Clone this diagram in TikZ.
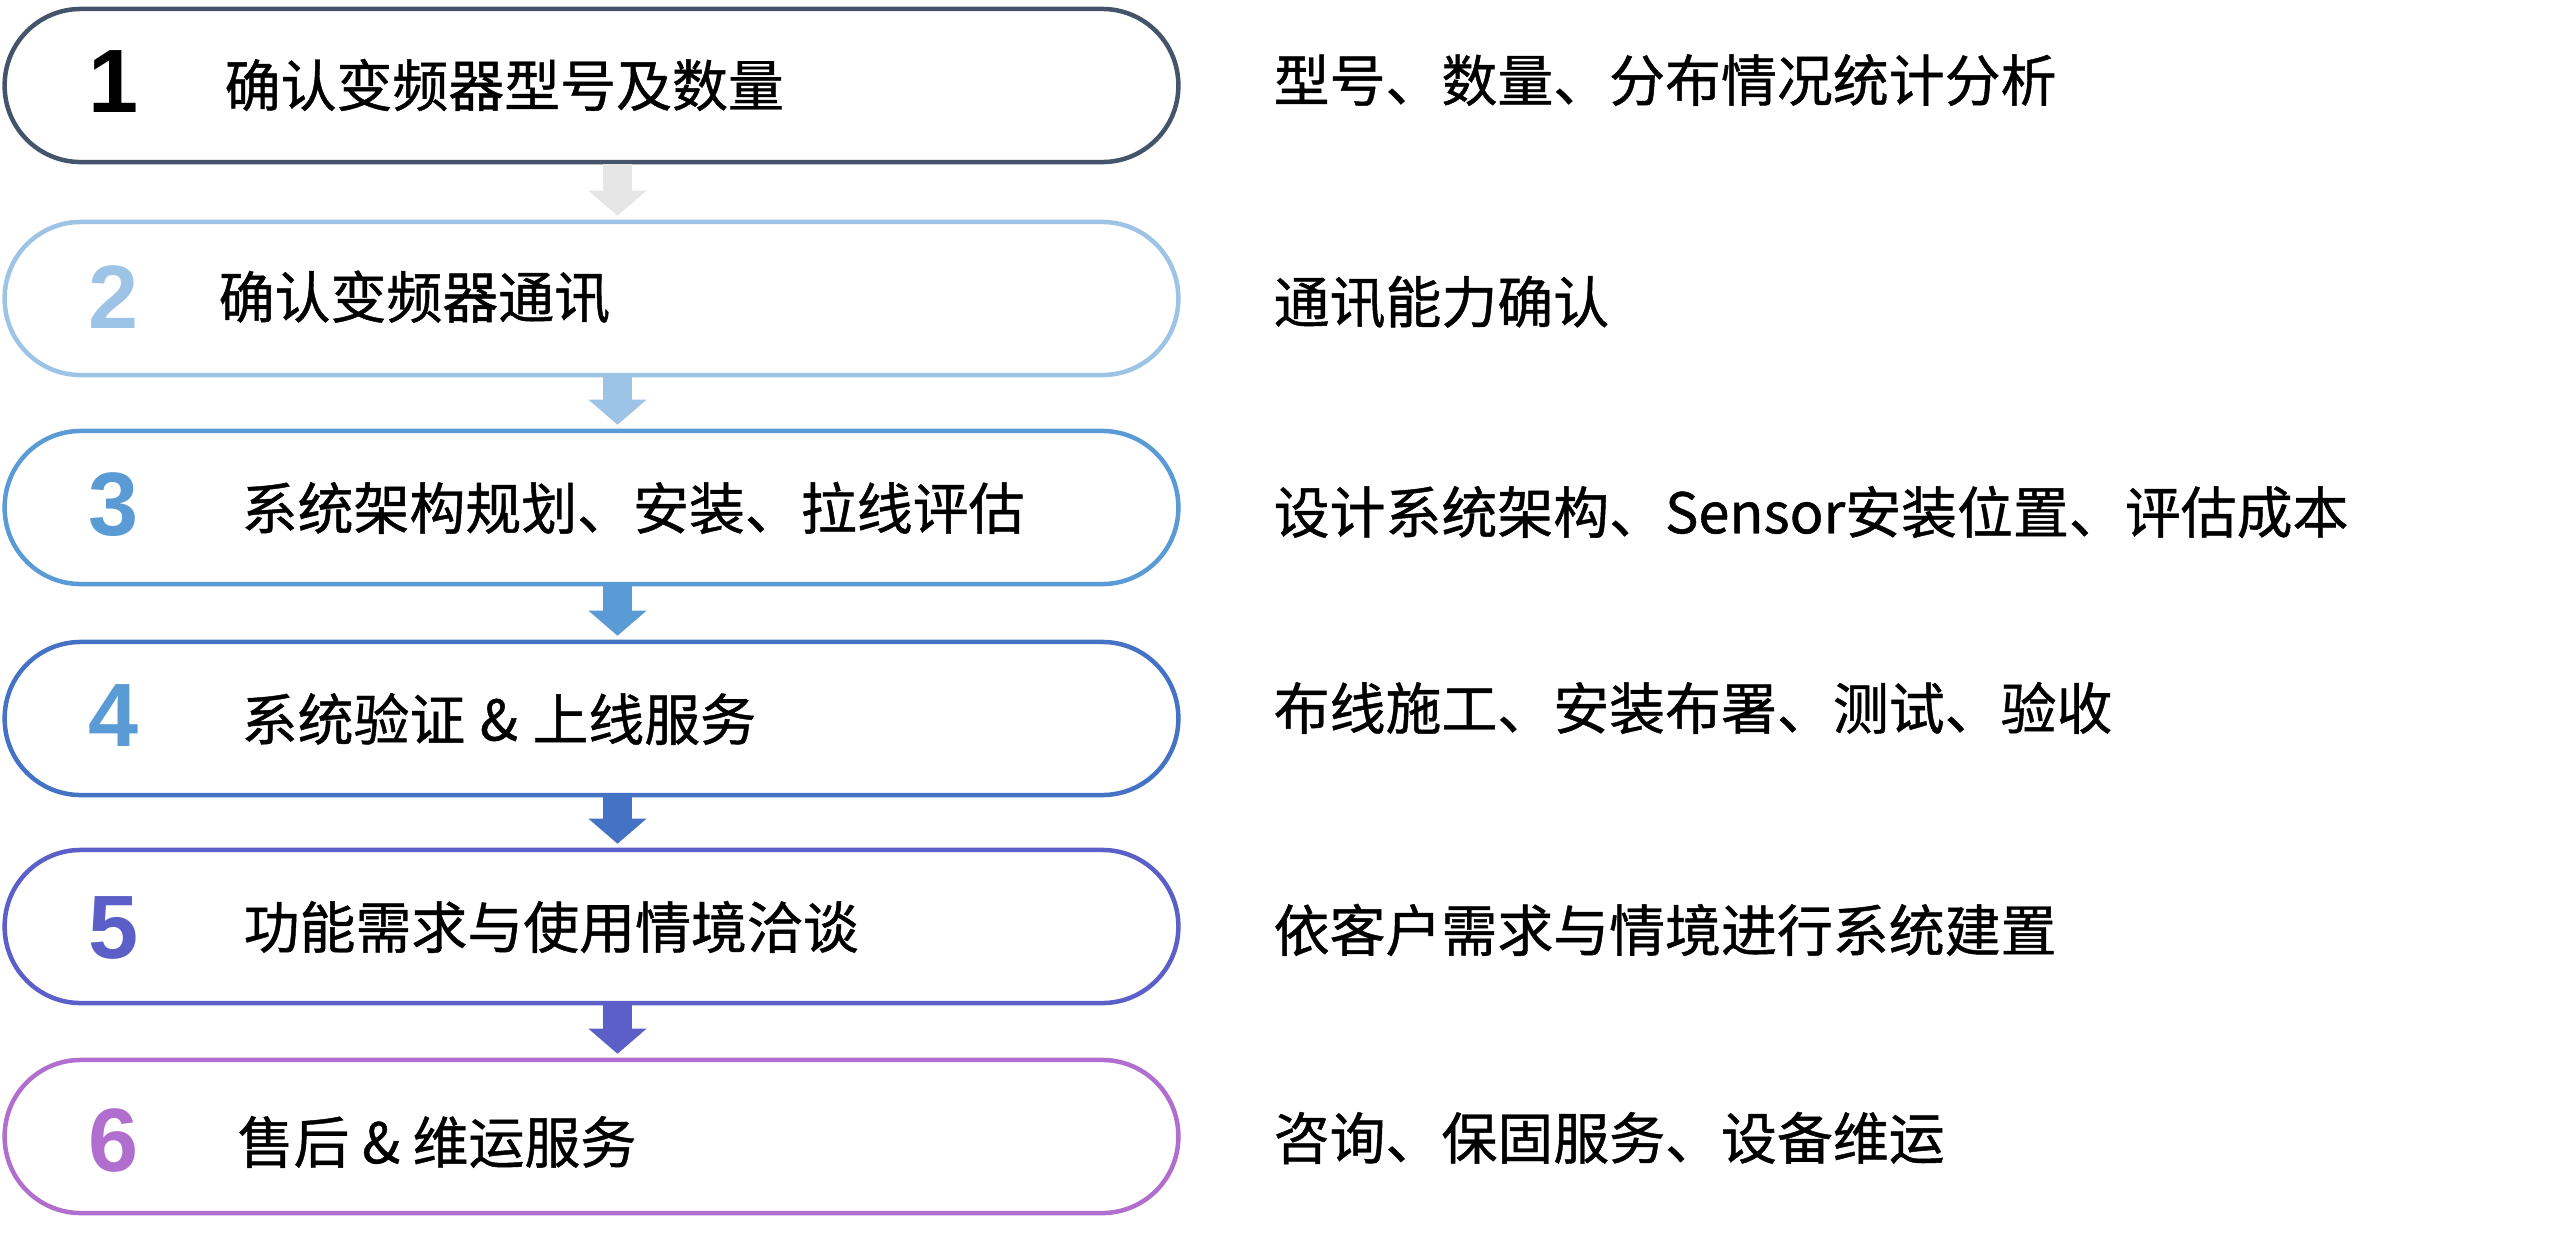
\documentclass[tikz,border=0pt]{standalone}
\usepackage{fontspec}
\setmainfont{Liberation Sans}
\newfontfamily\cjkfont[FakeBold=0.8]{Noto Sans CJK SC}
\usetikzlibrary{arrows.meta,calc}
\definecolor{cA}{HTML}{44546A}
\definecolor{cB}{HTML}{9DC3E6}
\definecolor{cC}{HTML}{5B9BD5}
\definecolor{cD}{HTML}{4472C4}
\definecolor{cE}{HTML}{5B5FC7}
\definecolor{cF}{HTML}{B06ECE}
\definecolor{cGray}{HTML}{E7E6E6}
\begin{document}
\begin{tikzpicture}[x=0.01cm,y=-0.01cm,
  stepbox/.style={draw, line width=0.045cm, rounded corners=0.76cm,
    minimum width=11.73cm, minimum height=1.53cm, inner sep=0pt, fill=white},
  num/.style={font=\bfseries\fontsize{25.6}{27}\selectfont, inner sep=0pt},
  lbl/.style={font=\cjkfont\fontsize{15.9}{17}\selectfont, anchor=west, inner sep=0pt, text=black},
  flow/.style={line width=0.29cm, line cap=butt,
    -{Triangle[width=0.58cm, length=0.25cm, line width=0pt]}},
]
\useasboundingbox (0,0) rectangle (2560,1245);
\fill[white] (0,0) rectangle (2560,1245);

% boxes
\node[stepbox, draw=cA] (b1) at (591.5,85.5) {};
\node[stepbox, draw=cB] (b2) at (591.5,298.5) {};
\node[stepbox, draw=cC] (b3) at (591.5,507.5) {};
\node[stepbox, draw=cD] (b4) at (591.5,718.5) {};
\node[stepbox, draw=cE] (b5) at (591.5,926.5) {};
\node[stepbox, draw=cF] (b6) at (591.5,1136.5) {};

% arrows
\draw[flow, cGray] ($(b1.south)+(26,0)$) -- ($(b2.north)+(26,-4)$);
\draw[flow, cB] ($(b2.south)+(26,0)$) -- ($(b3.north)+(26,-4)$);
\draw[flow, cC] ($(b3.south)+(26,0)$) -- ($(b4.north)+(26,-4)$);
\draw[flow, cD] ($(b4.south)+(26,0)$) -- ($(b5.north)+(26,-4)$);
\draw[flow, cE] ($(b5.south)+(26,0)$) -- ($(b6.north)+(26,-4)$);

% numbers
\node[num, text=black] (n1) at (114,82) {1};
\node[num, text=cB] (n2) at (114,297) {2};
\node[num, text=cC] (n3) at (114,505) {3};
\node[num, text=cC] (n4) at (114,715.5) {4};
\node[num, text=cE] (n5) at (114,927.5) {5};
\node[num, text=cF] (n6) at (114,1140) {6};

% step titles
\node[lbl] (t1) at (224,85) {确认变频器型号及数量};
\node[lbl] (t2) at (218,297) {确认变频器通讯};
\node[lbl] (t3) at (241,508) {系统架构规划、安装、拉线评估};
\node[lbl] (t4) at (241,719) {系统验证\hspace{0.02cm} \& \hspace{0.02cm}上线服务};
\node[lbl] (t5) at (243,927) {功能需求与使用情境洽谈};
\node[lbl] (t6) at (237,1142) {售后 \& 维运服务};

% descriptions
\node[lbl] (d1) at (1273,80) {型号、数量、分布情况统计分析};
\node[lbl] (d2) at (1273,302) {通讯能力确认};
\node[lbl] (d3) at (1273,512) {设计系统架构、Sensor安装位置、评估成本};
\node[lbl] (d4) at (1273,708) {布线施工、安装布署、测试、验收};
\node[lbl] (d5) at (1273,930) {依客户需求与情境进行系统建置};
\node[lbl] (d6) at (1273,1138) {咨询、保固服务、设备维运};
\end{tikzpicture}
\end{document}
